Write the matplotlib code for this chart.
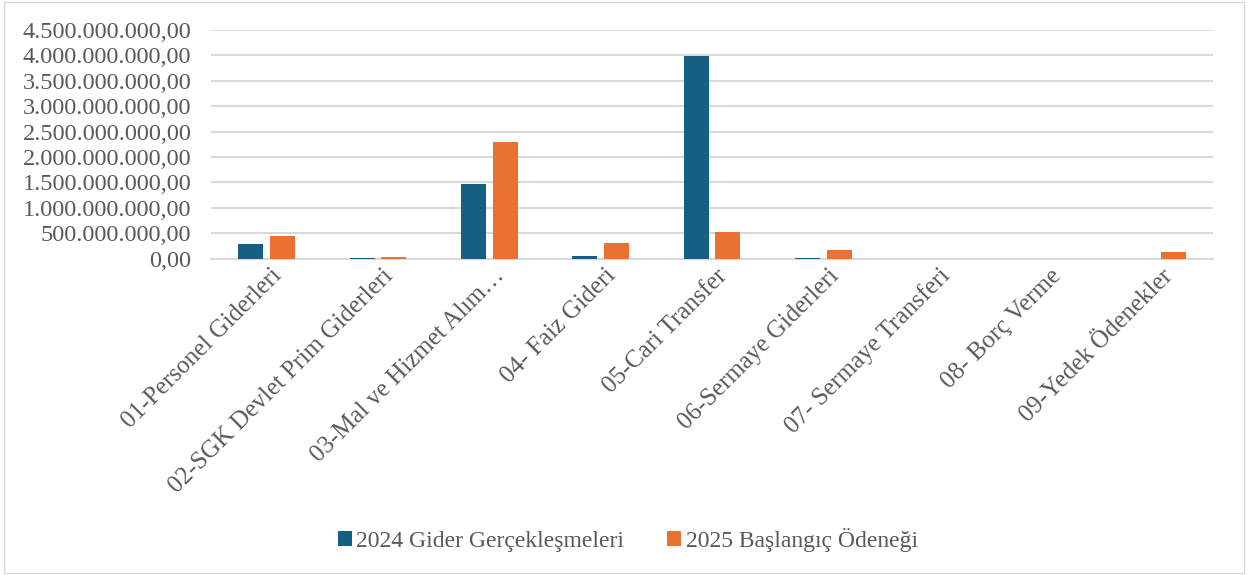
import numpy as np
import matplotlib.pyplot as plt
from matplotlib.patches import Rectangle
from matplotlib.ticker import FuncFormatter
from matplotlib.transforms import ScaledTranslation

plt.rcParams['font.family'] = ['Liberation Serif', 'DejaVu Serif']

categories = ['01-Personel Giderleri', '02-SGK Devlet Prim Giderleri',
              '03-Mal ve Hizmet Alım…', '04- Faiz Gideri', '05-Cari Transfer',
              '06-Sermaye Giderleri', '07- Sermaye Transferi', '08- Borç Verme',
              '09-Yedek Ödenekler']
gider_2024 = [290e6, 12e6, 1475e6, 60e6, 3990e6, 10e6, 2e6, 0, 0]
odenek_2025 = [440e6, 25e6, 2300e6, 300e6, 520e6, 165e6, 0, 0, 140e6]
series_names = ['2024 Gider Gerçekleşmeleri', '2025 Başlangıç Ödeneği']

blue = '#156082'
orange = '#E97132'
text_color = '#595959'


def tr_format(v, pos):
    s = f'{v:,.2f}'
    return s.replace(',', 'X').replace('.', ',').replace('X', '.')


fig = plt.figure(figsize=(12.48, 5.75), dpi=100)
ax = fig.add_axes([0.169, 0.55, 0.803, 0.398])

x = np.arange(len(categories))
w = 0.225
ax.bar(x - 0.142, gider_2024, width=w, color=blue, label=series_names[0], zorder=3)
ax.bar(x + 0.142, odenek_2025, width=w, color=orange, label=series_names[1], zorder=3)

ax.set_xlim(-0.5, len(categories) - 0.5)
ax.set_ylim(0, 4.5e9)
ax.set_yticks(np.arange(0, 4.5e9 + 1, 5e8))
ax.yaxis.set_major_formatter(FuncFormatter(tr_format))
ax.grid(axis='y', color='#d9d9d9', linewidth=1.5, zorder=0)
for s in ['top', 'right', 'left']:
    ax.spines[s].set_visible(False)
ax.spines['bottom'].set_color('#d9d9d9')
ax.spines['bottom'].set_linewidth(1.5)
ax.tick_params(axis='both', length=0, labelsize=17.5, colors=text_color)
ax.tick_params(axis='y', pad=14)
ax.tick_params(axis='x', pad=10, labelsize=17.9)
ax.set_xticks(x)
ax.set_xticklabels(categories, rotation=45, ha='right', va='center',
                   rotation_mode='anchor')
# nudge the slanted labels right so they end at the tick like in Excel
shift = ScaledTranslation(0.12, 0, fig.dpi_scale_trans)
for lbl in ax.get_xticklabels():
    lbl.set_transform(lbl.get_transform() + shift)

fig.legend(loc='center', bbox_to_anchor=(0.503, 0.061), ncol=2, frameon=False,
           fontsize=17, labelcolor=text_color, handlelength=0.6, handleheight=0.6,
           handletextpad=0.2, columnspacing=1.8)

fig.patches.append(Rectangle((0.003, 0.003), 0.994, 0.994, transform=fig.transFigure,
                             fill=False, edgecolor='#d9d9d9', linewidth=1))

fig.savefig('out.png', dpi=100)
